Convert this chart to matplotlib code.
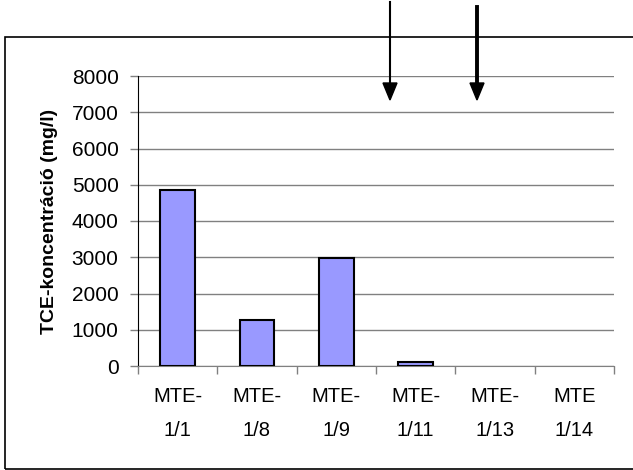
import numpy as np
import matplotlib.pyplot as plt
from matplotlib.patches import Rectangle

plt.rcParams['font.family'] = ['Liberation Sans', 'DejaVu Sans']

# TCE concentration per monitoring well
wells = ["MTE-\n1/1", "MTE-\n1/8", "MTE-\n1/9", "MTE-\n1/11", "MTE-\n1/13", "MTE\n1/14"]
tce = [4850, 1270, 2980, 100, 0, 0]
yticks = [0, 1000, 2000, 3000, 4000, 5000, 6000, 7000, 8000]

fig = plt.figure(figsize=(6.33, 4.70), dpi=100)
W, H = 633, 470
ax = fig.add_axes([138 / W, 1 - 366 / H, (614 - 138) / W, (366 - 76) / H])

x = np.arange(len(wells))
edges = ["black" if v > 0 else "none" for v in tce]
ax.bar(x, tce, width=0.44, color="#9999FF", edgecolor=edges, linewidth=1.5, zorder=3)

ax.set_xlim(-0.5, len(wells) - 0.5)
ax.set_ylim(0, 8000)
ax.set_yticks(yticks)
ax.set_yticklabels([str(v) for v in yticks], fontsize=15)
ax.yaxis.grid(True, color="#808080", linewidth=1)
ax.set_axisbelow(True)

ax.set_xticks(x)
ax.set_xticklabels(wells, fontsize=14.5, linespacing=2.0)
ax.tick_params(axis="x", length=0, pad=15)
ax.set_xticks(np.arange(-0.5, len(wells)), minor=True)
ax.tick_params(axis="x", which="minor", length=6, width=1, color="#808080", direction="out")
ax.tick_params(axis="y", length=6, width=1, color="#808080", direction="out", pad=8)

for s in ["top", "right"]:
    ax.spines[s].set_visible(False)
ax.spines["left"].set_color("black")
ax.spines["bottom"].set_color("#808080")

ax.set_ylabel("TCE-koncentráció (mg/l)", fontsize=14, fontweight="bold", labelpad=10)

# outer frame of the chart area
fig.patches.append(Rectangle((5 / W, 1 / H), (W + 20) / W, (469 - 37) / H,
                             transform=fig.transFigure, fill=False,
                             edgecolor="black", linewidth=1.2))

# arrows marking the wells
for xp, lw, y0 in [(390, 1.5, 2), (477, 2.8, 7)]:
    fig.add_artist(plt.Line2D([xp / W, xp / W], [1 - y0 / H, 1 - 85 / H],
                              color="black", linewidth=lw, transform=fig.transFigure))
    fig.patches.append(plt.Polygon([[(xp - 7) / W, 1 - 83 / H], [(xp + 7) / W, 1 - 83 / H],
                                    [xp / W, 1 - 100 / H]], closed=True,
                                   transform=fig.transFigure, color="black"))

fig.savefig("out.png", dpi=100)
